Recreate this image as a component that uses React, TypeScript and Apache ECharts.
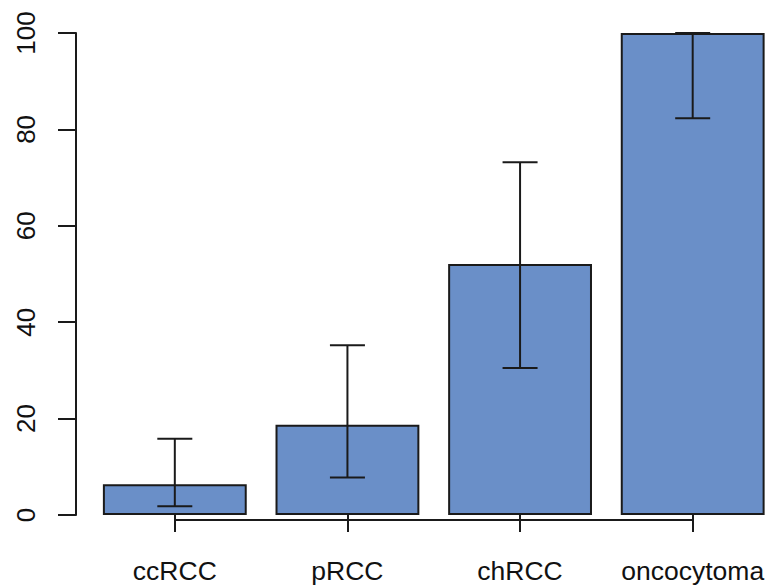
import React, { useEffect, useRef } from "react";
import * as echarts from "echarts";

const categories = ["ccRCC", "pRCC", "chRCC", "oncocytoma"];
const values = [6.4, 18.7, 52.1, 100];
const lower = [1.8, 7.8, 30.5, 82.3];
const upper = [15.8, 35.2, 73.2, 100];

const FONT = "'Liberation Sans', Arial, Helvetica, sans-serif";

export default function App() {
  const ref = useRef<HTMLDivElement>(null);
  useEffect(() => {
    if (!ref.current) return;
    const chart = echarts.init(ref.current, undefined, { renderer: "svg" });
    const errData = categories.map((_, i) => [i, lower[i], upper[i]]);
    const axisData = categories.map((_, i) => [i, 0]);
    chart.setOption({
      animation: false,
      backgroundColor: "#ffffff",
      grid: { left: 88.5, top: 33, width: 696, height: 482 },
      xAxis: {
        type: "category",
        data: categories,
        offset: 5,
        axisLine: { show: false },
        axisTick: {
          show: true,
          alignWithLabel: true,
          interval: 0,
          length: 17,
          lineStyle: { color: "#1a1a1a", width: 2 },
        },
        axisLabel: {
          interval: 0,
          hideOverlap: false,
          margin: 37,
          fontSize: 26.5,
          fontFamily: FONT,
          color: "#111",
        },
        splitLine: { show: false },
      },
      yAxis: {
        type: "value",
        min: 0,
        max: 100,
        interval: 20,
        offset: 12.5,
        axisLine: { show: true, lineStyle: { color: "#1a1a1a", width: 2 } },
        axisTick: {
          show: true,
          length: 18,
          lineStyle: { color: "#1a1a1a", width: 2 },
        },
        axisLabel: {
          rotate: 90,
          margin: 37,
          fontSize: 26,
          fontFamily: FONT,
          color: "#111",
        },
        splitLine: { show: false },
      },
      series: [
        {
          type: "bar",
          data: values,
          barCategoryGap: "16.67%",
          itemStyle: {
            color: "#6a8fc8",
            borderColor: "#1a1a1a",
            borderWidth: 2,
          },
          z: 2,
        },
        {
          type: "custom",
          data: errData,
          z: 5,
          renderItem: (params: any, api: any) => {
            const x = api.value(0);
            const lo = api.coord([x, api.value(1)]);
            const hi = api.coord([x, api.value(2)]);
            const hw = 17.5;
            const style = { stroke: "#1a1a1a", lineWidth: 2 };
            return {
              type: "group",
              children: [
                { type: "line", shape: { x1: lo[0], y1: lo[1], x2: hi[0], y2: hi[1] }, style },
                { type: "line", shape: { x1: lo[0] - hw, y1: lo[1], x2: lo[0] + hw, y2: lo[1] }, style },
                { type: "line", shape: { x1: hi[0] - hw, y1: hi[1], x2: hi[0] + hw, y2: hi[1] }, style },
              ],
            };
          },
        },
        {
          type: "custom",
          data: axisData,
          z: 5,
          silent: true,
          renderItem: (params: any, api: any) => {
            const i = api.value(0);
            if (i === 0) return null;
            const p0 = api.coord([i - 1, 0]);
            const p1 = api.coord([i, 0]);
            return {
              type: "line",
              shape: { x1: p0[0], y1: p0[1] + 5, x2: p1[0], y2: p1[1] + 5 },
              style: { stroke: "#1a1a1a", lineWidth: 2 },
            };
          },
        },
      ],
    });
    return () => chart.dispose();
  }, []);
  return (
    <div
      ref={ref}
      style={{ position: "absolute", left: 0, top: 0, width: 779, height: 587 }}
    />
  );
}
